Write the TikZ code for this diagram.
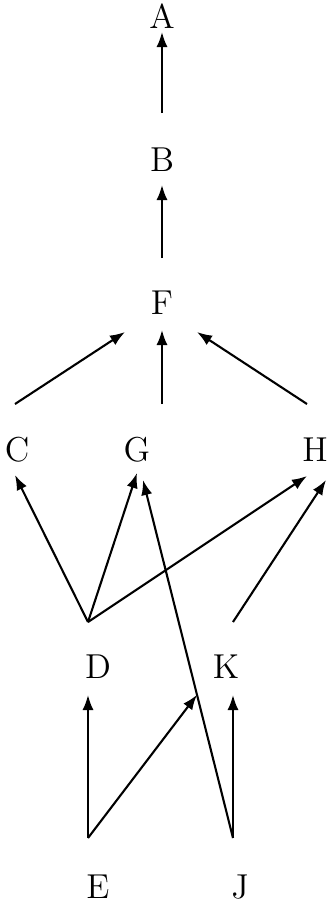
\documentclass[tikz,border=0pt]{standalone}
\usepackage{tikz}
\usetikzlibrary{arrows.meta,calc}

\begin{document}
\begin{tikzpicture}[x=0.0126cm, y=-0.0126cm]
    \tikzset{
        lbl/.style={inner sep=0pt, font=\fontsize{12.4}{14}\selectfont},
        edge/.style={line width=0.75pt, -{Latex[length=5.4pt, width=4pt]}}
    }
    \useasboundingbox (0,0) rectangle (326,902);

    % --- Labels ---
    \node[lbl] (A) at (162,16) {A};
    \node[lbl] (B) at (162,160) {B};
    \node[lbl] (F) at (162,303) {F};
    \node[lbl] (C) at (17,450) {C};
    \node[lbl] (G) at (137,450) {G};
    \node[lbl] (H) at (315,450) {H};
    \node[lbl] (D) at (98,667) {D};
    \node[lbl] (K) at (226,667) {K};
    \node[lbl] (E) at (98,887) {E};
    \node[lbl] (J) at (240,887) {J};

    % --- Edge end points ---
    \coordinate (Ah) at (162,32);
    \coordinate (Bt) at (162,113);
    \coordinate (Bh) at (162,185);
    \coordinate (Ft) at (162,258);
    \coordinate (Fl) at (125,332);
    \coordinate (Fm) at (162,330);
    \coordinate (Fr) at (197,332);
    \coordinate (Ct) at (15,404);
    \coordinate (Gt) at (162,404);
    \coordinate (Ht) at (307,404);
    \coordinate (Ch) at (15,475);
    \coordinate (Gl) at (137,473);
    \coordinate (Gr) at (143,480);
    \coordinate (Hl) at (307,476);
    \coordinate (Hr) at (326,480);
    \coordinate (Dt) at (88,622);
    \coordinate (Kt) at (233,622);
    \coordinate (Dh) at (88,695);
    \coordinate (Kh) at (233,695);
    \coordinate (Et) at (88,838);
    \coordinate (Jt) at (233,838);

    % Meeting point on the J--G line
    \coordinate (X) at ($(Jt)!0.4!(Gr)$);

    % --- Edges ---
    \draw[edge] (Bt) -- (Ah);
    \draw[edge] (Ft) -- (Bh);
    \draw[edge] (Ct) -- (Fl);
    \draw[edge] (Gt) -- (Fm);
    \draw[edge] (Ht) -- (Fr);
    \draw[edge] (Dt) -- (Ch);
    \draw[edge] (Dt) -- (Gl);
    \draw[edge] (Dt) -- (Hl);
    \draw[edge] (Kt) -- (Hr);
    \draw[edge] (Jt) -- (Gr);
    \draw[edge] (Et) -- (Dh);
    \draw[edge] (Et) -- (X);
    \draw[edge] (Jt) -- (Kh);

\end{tikzpicture}
\end{document}
